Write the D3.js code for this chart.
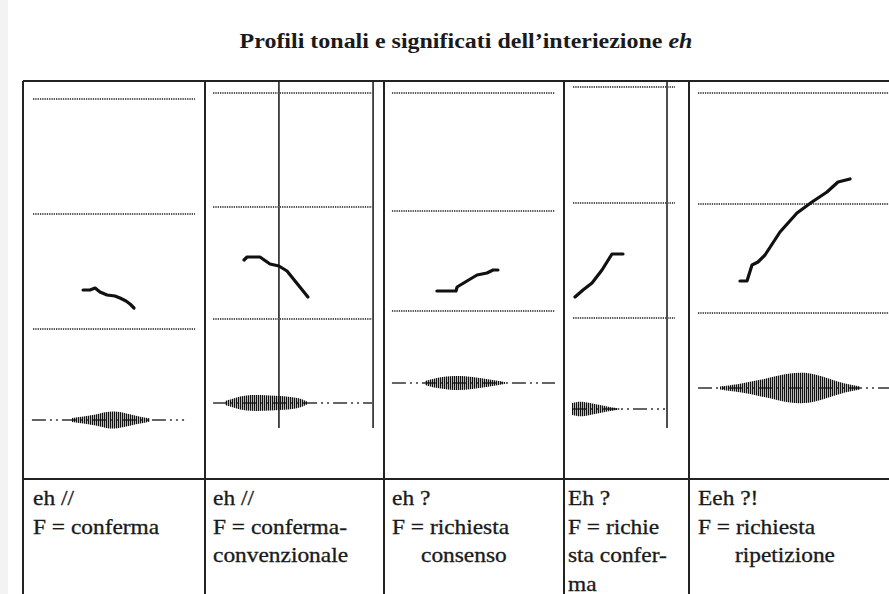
<!DOCTYPE html>
<html>
<head>
<meta charset="utf-8">
<script src="https://cdn.jsdelivr.net/npm/d3@7"></script>
<style>
    body { margin: 0; background: #fff; }
    #chart { width: 889px; height: 594px; }
</style>
</head>
<body>
<div id="chart"></div>
<script>
// ---- data ----
const titleText = "Profili tonali e significati dell\u2019interiezione ";
const titleItalic = "eh";

const tones = ["eh //", "eh //", "eh ?", "Eh ?", "Eeh ?!"];
const functions = [
    ["F = conferma"],
    ["F = conferma-", "convenzionale"],
    ["F = richiesta", "consenso"],
    ["F = richie", "sta confer-", "ma"],
    ["F = richiesta", "ripetizione"]
];

// dotted pitch reference levels per panel
const refLevels = [
    [33.1, 21.6, 10.1],
    [33.7, 22.3, 11.1],
    [33.7, 21.9, 11.9],
    [34.3, 22.7, 11.2],
    [33.7, 22.6, 11.7]
];
// time span of the dotted lines (% of panel)
const refSpan = [[5.5, 94.5], [4.5, 93.3], [4.4, 95], [7.2, 88.8], [4.5, 100]];

// pitch contours: [time %, level]
const contours = [
    [[33.0, 14.0], [36.8, 14.0], [39.6, 14.2], [42.3, 13.8], [46.2, 13.5], [50.5, 13.4], [53.3, 13.2], [56.6, 12.9], [58.8, 12.6], [61.0, 12.2]],
    [[21.8, 17.0], [23.5, 17.3], [30.7, 17.3], [36.3, 16.6], [41.3, 16.4], [45.8, 15.9], [57.5, 13.3]],
    [[29.4, 13.9], [40.0, 13.9], [40.6, 14.3], [46.1, 14.9], [51.7, 15.5], [57.2, 15.7], [60.6, 16.0], [63.3, 16.0]],
    [[8.8, 13.3], [15.2, 14.0], [22.4, 14.7], [30.4, 16.0], [38.4, 17.6], [47.2, 17.6]],
    [[25.5, 14.9], [29.0, 14.9], [31.5, 16.5], [34.5, 16.8], [38.0, 17.5], [45.5, 19.8], [54.0, 21.7], [61.5, 22.8], [69.0, 23.8], [74.5, 24.8], [80.5, 25.1]]
];

// waveform: baseline level, span and amplitude envelope [time %, amplitude]
const waveBase = [1.0, 2.7, 4.7, 2.1, 4.2];
const waveSpan = [[4.9, 88.5], [4.5, 93.3], [4.4, 95], [7.2, 80.8], [4.5, 100]];
const envelopes = [
    [[26.9, 0.2], [39.6, 0.5], [45.1, 0.8], [50.5, 0.9], [56.0, 0.7], [62.6, 0.4], [69.8, 0.15]],
    [[11.2, 0.2], [16.8, 0.5], [22.3, 0.8], [33.5, 0.8], [44.7, 0.7], [53.1, 0.5], [57.0, 0.15]],
    [[22.8, 0.2], [28.3, 0.5], [36.7, 0.7], [45.0, 0.7], [53.3, 0.5], [60.6, 0.3], [67.2, 0.1]],
    [[6.4, 0.6], [12.8, 0.8], [20.8, 0.6], [28.8, 0.4], [36.8, 0.2], [44.8, 0.05]],
    [[15.5, 0.15], [25.5, 0.4], [35.5, 0.8], [45.5, 1.3], [55.5, 1.6], [63.0, 1.4], [70.5, 0.9], [78.0, 0.4], [85.5, 0.15]]
];

// cursor lines left in some panels (time %)
const cursors = [[], [41.3, 93.9], [], [82.4], []];

// ---- layout ----
let width = 889, height = 594;
let panelEdges = [23, 205, 384, 564, 689, 889];
let frameTop = 81, tableTop = 479;
let labelX = [10, 8, 8, 4, 9];
let labelIndent = [[0], [0, 0], [0, 29], [0, 0, 0], [0, 37]];
let baselines = [505, 533.5, 562, 590.5];
let stretch = 1.17;

let y = d3.scaleLinear().domain([0, 35]).range([430, 80]);

function panelX(i) {
    return d3.scaleLinear().domain([0, 100]).range([panelEdges[i], panelEdges[i + 1]]);
}

function draw() {
    let svg = d3.select('#chart')
        .append("svg")
        .attr("width", width)
        .attr("height", height);

    svg.append("rect").attr("width", 8).attr("height", height).attr("fill", "#f3f3f3");

    // stripes for the waveform blobs
    let pat = svg.append("defs").append("pattern")
        .attr("id", "wave")
        .attr("patternUnits", "userSpaceOnUse")
        .attr("width", 2).attr("height", 3);
    pat.append("rect").attr("width", 1.3).attr("height", 3).attr("fill", "#111");

    // title
    let t = svg.append("text")
        .attr("transform", "translate(" + 466 + ",48) scale(1.09,1)")
        .attr("text-anchor", "middle")
        .attr("font-family", "Liberation Serif, serif")
        .style("font-size", "22px")
        .style("font-weight", "bold")
        .attr("fill", "#1a1a1a");
    t.append("tspan").text(titleText);
    t.append("tspan").style("font-style", "italic").text(titleItalic);

    // frame
    let frame = svg.append("g")
        .attr("stroke", "#222")
        .attr("stroke-width", 2)
        .attr("fill", "none");
    frame.append("line").attr("x1", 23).attr("x2", width).attr("y1", frameTop).attr("y2", frameTop);
    frame.append("line").attr("x1", 23).attr("x2", width).attr("y1", tableTop).attr("y2", tableTop);
    panelEdges.slice(0, 5).forEach((e) => {
        frame.append("line").attr("x1", e).attr("x2", e).attr("y1", frameTop).attr("y2", height);
    });

    tones.forEach((tone, i) => {
        let x = panelX(i);
        let g = svg.append("g");

        // cursors
        cursors[i].forEach((c) => {
            g.append("line")
                .attr("x1", x(c)).attr("x2", x(c))
                .attr("y1", frameTop).attr("y2", y(0.2))
                .attr("stroke", "#222").attr("stroke-width", 1.6);
        });

        // dotted reference levels
        refLevels[i].forEach((lv) => {
            g.append("line")
                .attr("x1", x(refSpan[i][0])).attr("x2", x(refSpan[i][1]))
                .attr("y1", y(lv)).attr("y2", y(lv))
                .attr("stroke", "#555")
                .attr("stroke-width", 2)
                .attr("stroke-dasharray", "1.3,1");
        });

        // waveform baseline
        g.append("line")
            .attr("x1", x(waveSpan[i][0])).attr("x2", x(waveSpan[i][1]))
            .attr("y1", y(waveBase[i])).attr("y2", y(waveBase[i]))
            .attr("stroke", "#333")
            .attr("stroke-width", 1.5)
            .attr("stroke-dasharray", "14,4,2,4,2,4");

        // waveform envelope
        g.append("path")
            .datum(envelopes[i])
            .attr("d", d3.area()
                .x((d) => x(d[0]))
                .y0((d) => y(waveBase[i] + d[1]))
                .y1((d) => y(waveBase[i] - d[1]))
                .curve(d3.curveBasis))
            .attr("fill", "url(#wave)");

        // pitch contour
        g.append("path")
            .datum(contours[i])
            .attr("d", d3.line()
                .x((d) => x(d[0]))
                .y((d) => y(d[1])))
            .attr("fill", "none")
            .attr("stroke", "#111")
            .attr("stroke-width", 3.2)
            .attr("stroke-linejoin", "round")
            .attr("stroke-linecap", "round");

        // labels
        let lines = [tone].concat(functions[i]);
        let indents = [0].concat(labelIndent[i]);
        lines.forEach((txt, k) => {
            g.append("text")
                .attr("transform", "translate(" + (panelEdges[i] + labelX[i] + indents[k]) + "," + baselines[k] + ") scale(" + stretch + ",1)")
                .attr("font-family", "Liberation Serif, serif")
                .style("font-size", "20px")
                .attr("fill", "#1a1a1a")
                .attr("stroke", "#1a1a1a")
                .attr("stroke-width", 0.3)
                .text(txt);
        });
    });
}

draw();
</script>
</body>
</html>
